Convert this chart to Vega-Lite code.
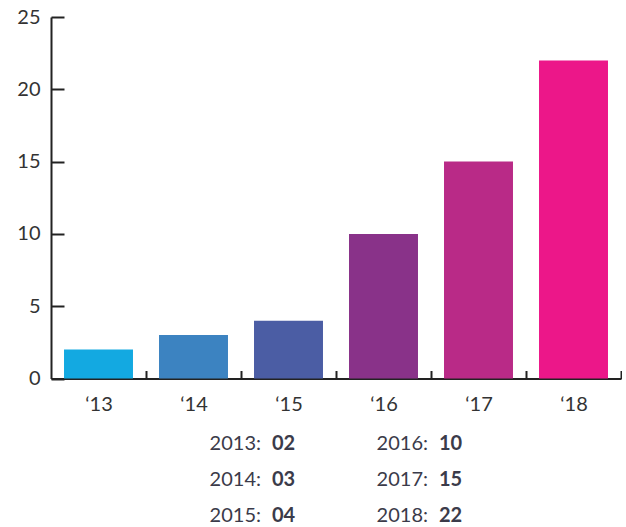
{
  "$schema": "https://vega.github.io/schema/vega-lite/v6.json",
  "padding": {"left": 16, "top": 7, "right": 0, "bottom": 0},
  "spacing": 18,
  "config": {
    "font": "Lato",
    "view": {"stroke": null},
    "axis": {"grid": false, "title": null}
  },
  "datasets": {
    "bars": [
      {"label": "‘13", "value": 2},
      {"label": "‘14", "value": 3},
      {"label": "‘15", "value": 4},
      {"label": "‘16", "value": 10},
      {"label": "‘17", "value": 15},
      {"label": "‘18", "value": 22}
    ],
    "summary": [
      {"year": "2013:", "value": "02", "column": 1, "line": 1},
      {"year": "2014:", "value": "03", "column": 1, "line": 2},
      {"year": "2015:", "value": "04", "column": 1, "line": 3},
      {"year": "2016:", "value": "10", "column": 2, "line": 1},
      {"year": "2017:", "value": "15", "column": 2, "line": 2},
      {"year": "2018:", "value": "22", "column": 2, "line": 3}
    ]
  },
  "vconcat": [
    {
      "width": 570,
      "height": 361.5,
      "data": {"name": "bars"},
      "mark": {"type": "bar"},
      "encoding": {
        "x": {
          "field": "label", "type": "nominal", "sort": null,
          "scale": {"paddingInner": 0.274, "paddingOuter": 0.137},
          "axis": {
            "labelAngle": 0, "ticks": true, "tickOffset": 47.5, "labelOffset": -47.5,
            "tickSize": -8, "tickWidth": 2,
            "tickColor": "#222", "domainColor": "#222", "domainWidth": 2,
            "labelPadding": 24, "labelFontSize": 20, "labelColor": "#333"
          }
        },
        "y": {
          "field": "value", "type": "quantitative",
          "scale": {"domain": [0, 25], "nice": false},
          "axis": {
            "values": [0, 5, 10, 15, 20, 25], "tickSize": -13, "tickWidth": 2,
            "tickColor": "#222", "domainColor": "#222", "domainWidth": 2,
            "labelPadding": 24, "labelFontSize": 20, "labelColor": "#333"
          }
        },
        "color": {
          "field": "label", "type": "nominal", "sort": null, "legend": null,
          "scale": {"range": ["#13a9e1", "#3c83c1", "#4b5da4", "#893289", "#b92a87", "#ec1789"]}
        }
      }
    },
    {
      "width": 570,
      "height": 94,
      "data": {"name": "summary"},
      "encoding": {
        "x": {"field": "column", "type": "quantitative", "scale": {"domain": [-0.2575, 3.1557], "nice": false, "zero": false}, "axis": null},
        "y": {"field": "line", "type": "ordinal", "scale": {"type": "point", "padding": 0.3}, "axis": null}
      },
      "layer": [
        {
          "mark": {"type": "text", "align": "right", "baseline": "middle", "dx": 0, "fontSize": 20, "color": "#3b3b4a"},
          "encoding": {"text": {"field": "year"}}
        },
        {
          "mark": {"type": "text", "align": "left", "baseline": "middle", "dx": 11, "fontSize": 20, "fontWeight": "bold", "color": "#3b3b4a"},
          "encoding": {"text": {"field": "value"}}
        }
      ]
    }
  ]
}
